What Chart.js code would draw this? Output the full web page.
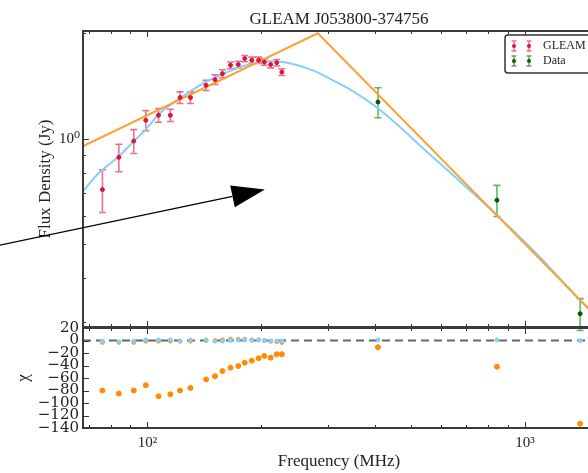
<!DOCTYPE html>
<html>
<head>
<meta charset="utf-8">
<script src="https://cdn.jsdelivr.net/npm/chart.js@4.4.1/dist/chart.umd.min.js"></script>
<style>
  html, body { margin: 0; padding: 0; background: #fff; overflow: hidden; }
  #wrap { position: relative; width: 588px; height: 473px; overflow: hidden; }
  #fluxChart { position: absolute; left: 0; top: 0; }
  #chiChart { position: absolute; left: 0; top: 300px; }
</style>
</head>
<body>
<div id="wrap">
  <canvas id="fluxChart" width="640" height="350"></canvas>
  <canvas id="chiChart" width="640" height="173"></canvas>
</div>
<script>
// axis ranges (MHz / Jy / chi)
const FREQ_MIN = 67.5, FREQ_MAX = 1533;
const FLUX_MIN = 0.2895, FLUX_MAX = 2.03;
const CHI_MIN = -140, CHI_MAX = 20;

const titleText = "GLEAM J053800-374756";

// GLEAM points
const gleamFreq = [76, 84, 92, 99, 107, 115, 122, 130, 143, 151, 158, 166, 174, 181, 189, 197, 204, 212, 220, 227];
const gleamFlux = [0.715, 0.884, 0.984, 1.128, 1.166, 1.166, 1.31, 1.31, 1.42, 1.474, 1.533, 1.62, 1.628, 1.693, 1.674, 1.674, 1.655, 1.628, 1.648, 1.549];
const gleamErr  = [0.10, 0.08, 0.077, 0.074, 0.052, 0.047, 0.05, 0.05, 0.047, 0.047, 0.04, 0.036, 0.036, 0.035, 0.035, 0.035, 0.035, 0.035, 0.035, 0.035];

// other catalogue points
const dataFreq = [408, 843, 1400];
const dataFlux = [1.272, 0.667, 0.316];
const dataErr  = [0.125, 0.068, 0.033];

// fitted curves
const curvedFreq = [67.4, 74.7, 83.5, 90.9, 99.0, 107.8, 121.8, 137.6, 155.5, 175.6, 198.5, 217.5, 238.3, 274.2, 309.8, 354.3, 407.7, 466.5, 536.7, 632.6, 843.1, 1096, 1400, 1533];
const curvedFlux = [0.707, 0.801, 0.884, 0.970, 1.063, 1.181, 1.304, 1.420, 1.517, 1.599, 1.652, 1.663, 1.641, 1.567, 1.468, 1.356, 1.221, 1.080, 0.939, 0.801, 0.604, 0.458, 0.345, 0.313];
const brokenFreq = [67.4, 282.7, 1533];
const brokenFlux = [0.951, 2.0, 0.313];

// residuals
const chiFreq = gleamFreq.concat(dataFreq);
const chiBroken = [-80, -84.8, -80, -71.5, -89.2, -86, -80, -75.8, -62.3, -57, -48.9, -43.5, -40.8, -35.5, -32.3, -28.4, -24.7, -27.4, -21.9, -21.9, -10.7, -41.9, -133];
const chiBrokenGleam = [-3, -3, -3, -1, -1, -1, -1, -1, 0, 0, 1, 2, 2, 2, 1, 1, 0, -1, -2, -3];
const chiCurved = [-1, -2, -1, 1, 1, 1, -1, 1, 1, -1, -1, 0, 1, 1, 0, 1, 0, -1, -1, -1, 1, 1, 0];

// ticks
const freqTicks = [70, 80, 90, 100, 200, 300, 400, 500, 600, 700, 800, 900, 1000];
const freqLabels = { 100: "10²", 1000: "10³" };
const fluxTicks = [0.3, 0.4, 0.5, 0.6, 0.7, 0.8, 0.9, 1, 2];
const fluxLabels = { 1: "10⁰" };
const chiTicks = [-140, -120, -100, -80, -60, -40, -20, 0, 20];

// legend + annotation
const legendLabels = ["GLEAM", "Data"];
const legendColors = ["#dc143c", "#006400"];
const arrowTail = [40.6, 0.496];
const arrowTip = [204.6, 0.715];

const SERIF = "'Liberation Serif', 'DejaVu Serif', serif";
const TXT = "#222";

const pts = (xs, ys) => xs.map((x, i) => ({ x: x, y: ys[i] }));
const isDecade = v => Math.abs(Math.log10(v) - Math.round(Math.log10(v))) < 1e-9;

// error bars drawn through the chart scales
const errorBars = {
  id: "errorBars",
  beforeDatasetsDraw(chart, args, opts) {
    const { ctx, scales } = chart;
    ctx.save();
    ctx.lineWidth = 1.6;
    opts.sets.forEach(s => {
      ctx.strokeStyle = s.color;
      s.x.forEach((fx, i) => {
        const px = scales.x.getPixelForValue(fx);
        const top = scales.y.getPixelForValue(s.y[i] + s.err[i]);
        const bot = scales.y.getPixelForValue(s.y[i] - s.err[i]);
        ctx.beginPath();
        ctx.moveTo(px, top); ctx.lineTo(px, bot);
        ctx.moveTo(px - 3.5, top); ctx.lineTo(px + 3.5, top);
        ctx.moveTo(px - 3.5, bot); ctx.lineTo(px + 3.5, bot);
        ctx.stroke();
      });
    });
    ctx.restore();
  }
};

// matplotlib style inward ticks and frame
const frameTicks = {
  id: "frameTicks",
  afterDatasetsDraw(chart, args, opts) {
    const { ctx, chartArea: a, scales } = chart;
    ctx.save();
    ctx.strokeStyle = "#333";
    ctx.lineWidth = 1;
    ctx.beginPath();
    opts.x.forEach(v => {
      const px = Math.round(scales.x.getPixelForValue(v)) + 0.5;
      const len = isDecade(v) ? 6 : 3;
      ctx.moveTo(px, a.bottom); ctx.lineTo(px, a.bottom - len);
      ctx.moveTo(px, a.top); ctx.lineTo(px, a.top + len);
    });
    opts.y.forEach(v => {
      const py = Math.round(scales.y.getPixelForValue(v)) + 0.5;
      const len = opts.yLog && !isDecade(v) ? 3 : 6;
      ctx.moveTo(a.left, py); ctx.lineTo(a.left + len, py);
      ctx.moveTo(a.right, py); ctx.lineTo(a.right - len, py);
    });
    ctx.stroke();
    ctx.lineWidth = 2;
    ctx.strokeStyle = "#3a3a3a";
    ctx.strokeRect(a.left, a.top, a.right - a.left, a.bottom - a.top);
    ctx.restore();
  }
};

const legendBox = {
  id: "legendBox",
  afterDraw(chart) {
    const { ctx, chartArea: a } = chart;
    const w = 92, h = 38;
    const x0 = a.right - 90, y0 = a.top + 4;
    ctx.save();
    ctx.fillStyle = "#fff";
    ctx.strokeStyle = "#333";
    ctx.lineWidth = 1.5;
    ctx.beginPath();
    ctx.roundRect(x0, y0, w, h, 3);
    ctx.fill(); ctx.stroke();
    ctx.font = "12px " + SERIF;
    ctx.textBaseline = "middle";
    legendLabels.forEach((label, i) => {
      const cy = y0 + 11 + i * 15;
      [x0 + 9, x0 + 24].forEach(mx => {
        ctx.strokeStyle = legendColors[i];
        ctx.globalAlpha = 0.6;
        ctx.lineWidth = 1.5;
        ctx.beginPath();
        ctx.moveTo(mx, cy - 5); ctx.lineTo(mx, cy + 5);
        ctx.moveTo(mx - 2.5, cy - 5); ctx.lineTo(mx + 2.5, cy - 5);
        ctx.moveTo(mx - 2.5, cy + 5); ctx.lineTo(mx + 2.5, cy + 5);
        ctx.stroke();
        ctx.globalAlpha = 1;
        ctx.fillStyle = legendColors[i];
        ctx.beginPath(); ctx.arc(mx, cy, 2, 0, Math.PI * 2); ctx.fill();
      });
      ctx.fillStyle = TXT;
      ctx.fillText(label, x0 + 38, cy);
    });
    ctx.restore();
  }
};

const arrow = {
  id: "arrow",
  afterDraw(chart) {
    const { ctx, scales } = chart;
    const x1 = scales.x.getPixelForValue(arrowTail[0]), y1 = scales.y.getPixelForValue(arrowTail[1]);
    const x2 = scales.x.getPixelForValue(arrowTip[0]), y2 = scales.y.getPixelForValue(arrowTip[1]);
    const len = Math.hypot(x2 - x1, y2 - y1);
    const ux = (x2 - x1) / len, uy = (y2 - y1) / len;
    const hl = 33, hw = 11;
    const bx = x2 - ux * hl, by = y2 - uy * hl;
    ctx.save();
    ctx.strokeStyle = "#000"; ctx.fillStyle = "#000"; ctx.lineWidth = 1.2;
    ctx.beginPath(); ctx.moveTo(x1, y1); ctx.lineTo(bx, by); ctx.stroke();
    ctx.beginPath();
    ctx.moveTo(x2, y2);
    ctx.lineTo(bx - uy * hw, by + ux * hw);
    ctx.lineTo(bx + uy * hw, by - ux * hw);
    ctx.closePath(); ctx.fill();
    ctx.restore();
  }
};

const setTicks = vals => axis => { axis.ticks = vals.map(v => ({ value: v })); };

new Chart(document.getElementById("fluxChart"), {
  type: "scatter",
  data: {
    datasets: [
      { label: "GLEAM", data: pts(gleamFreq, gleamFlux), backgroundColor: "#dc143c", borderColor: "#dc143c", pointRadius: 2, order: 0 },
      { label: "Data", data: pts(dataFreq, dataFlux), backgroundColor: "#005500", borderColor: "#005500", pointRadius: 2, order: 0 },
      { label: "curved", data: pts(curvedFreq, curvedFlux), showLine: true, borderColor: "#87cefa", borderWidth: 2, pointRadius: 0, cubicInterpolationMode: "monotone", order: 2 },
      { label: "broken", data: pts(brokenFreq, brokenFlux), showLine: true, borderColor: "#ffa030", borderWidth: 2, pointRadius: 0, order: 1 }
    ]
  },
  options: {
    responsive: false,
    animation: false,
    layout: { padding: { top: 0, right: 45, bottom: 23, left: 0 } },
    scales: {
      x: { type: "logarithmic", min: FREQ_MIN, max: FREQ_MAX, display: false },
      y: {
        type: "logarithmic", min: FLUX_MIN, max: FLUX_MAX,
        afterBuildTicks: setTicks(fluxTicks),
        afterFit: s => { s.width = 83; },
        grid: { display: false, drawTicks: false },
        border: { display: false },
        ticks: { autoSkip: false, padding: 3, color: TXT, font: { family: SERIF, size: 15 },
                 callback: v => fluxLabels[v] || "" },
        title: { display: true, text: "Flux Density (Jy)", color: TXT, font: { family: SERIF, size: 17 }, padding: { top: 35, bottom: 0 } }
      }
    },
    plugins: {
      legend: { display: false },
      tooltip: { enabled: false },
      title: { display: true, text: titleText, fullSize: false, color: TXT, font: { family: SERIF, size: 17, weight: "normal" }, padding: { top: 9, bottom: 1.6 } },
      errorBars: { sets: [
        { x: gleamFreq, y: gleamFlux, err: gleamErr, color: "rgba(220,20,60,0.6)" },
        { x: dataFreq, y: dataFlux, err: dataErr, color: "rgba(0,128,0,0.6)" }
      ] },
      frameTicks: { x: freqTicks, y: fluxTicks, yLog: true }
    }
  },
  plugins: [errorBars, frameTicks, legendBox, arrow]
});

new Chart(document.getElementById("chiChart"), {
  type: "scatter",
  data: {
    datasets: [
      { label: "zero", data: pts([FREQ_MIN, FREQ_MAX], [0, 0]), showLine: true, borderColor: "#666", borderWidth: 2, borderDash: [8, 5], pointRadius: 0, order: 3 },
      { label: "broken chi", data: pts(chiFreq, chiBroken), backgroundColor: "#ff8c00", borderColor: "#ff8c00", pointRadius: 2.5, order: 1 },
      { label: "broken chi gleam", data: pts(gleamFreq, chiBrokenGleam), backgroundColor: "#ff9a20", borderColor: "#ff9a20", pointRadius: 2, order: 2 },
      { label: "curved chi", data: pts(chiFreq, chiCurved), backgroundColor: "#87cefa", borderColor: "#87cefa", pointRadius: 2, order: 1 }
    ]
  },
  options: {
    responsive: false,
    animation: false,
    layout: { padding: { top: 28, right: 45, bottom: 0, left: 0 } },
    scales: {
      x: {
        type: "logarithmic", min: FREQ_MIN, max: FREQ_MAX,
        afterBuildTicks: setTicks(freqTicks),
        afterFit: s => { s.height = 45; },
        grid: { display: false, drawTicks: false },
        border: { display: false },
        ticks: { autoSkip: false, maxRotation: 0, padding: 6, color: TXT, font: { family: SERIF, size: 15 },
                 callback: v => freqLabels[v] || "" },
        title: { display: true, text: "Frequency (MHz)", color: TXT, font: { family: SERIF, size: 17 }, padding: { top: 0, bottom: 1.5 } }
      },
      y: {
        type: "linear", min: CHI_MIN, max: CHI_MAX,
        afterBuildTicks: setTicks(chiTicks),
        afterFit: s => { s.width = 83; },
        grid: { display: false, drawTicks: false },
        border: { display: false },
        ticks: { autoSkip: false, padding: 4, color: TXT, font: { family: "'DejaVu Serif', serif", size: 15 },
                 callback: v => (v < 0 ? "−" + Math.abs(v) : String(v)) },
        title: { display: true, text: "χ", color: TXT, font: { family: SERIF, size: 17 }, padding: { top: 13, bottom: 0 } }
      }
    },
    plugins: {
      legend: { display: false },
      tooltip: { enabled: false },
      frameTicks: { x: freqTicks, y: chiTicks, yLog: false }
    }
  },
  plugins: [frameTicks]
});
</script>
</body>
</html>
